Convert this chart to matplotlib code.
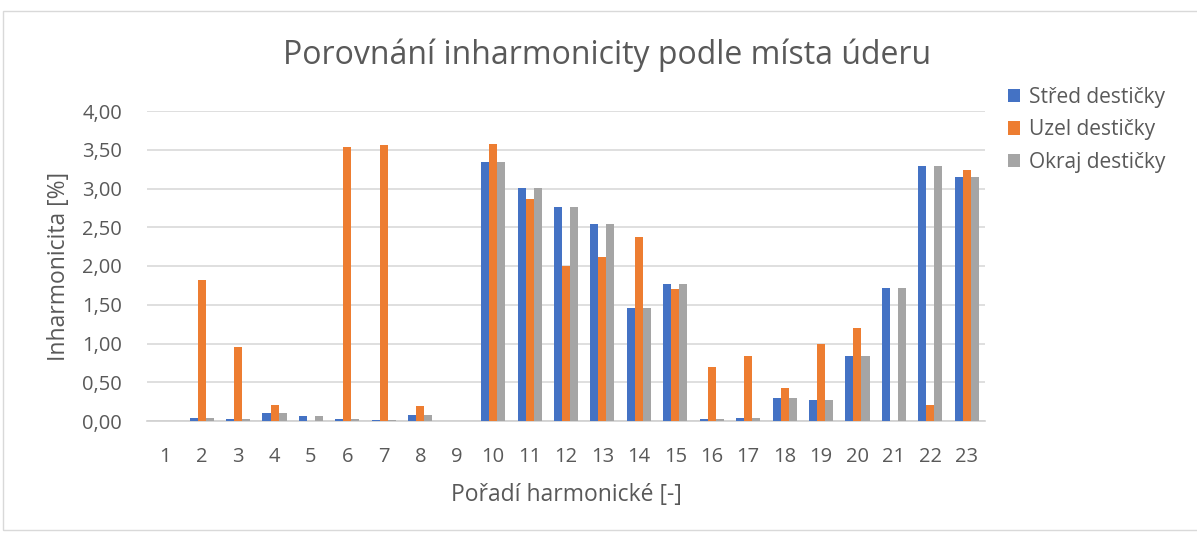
import matplotlib
matplotlib.use("Agg")
import matplotlib.pyplot as plt
import numpy as np
from matplotlib.patches import Rectangle
from matplotlib.ticker import FuncFormatter

plt.rcParams['font.family'] = ['Open Sans', 'DejaVu Sans']

harmonics = [str(i) for i in range(1, 24)]
stred = [0.00, 0.04, 0.02, 0.10, 0.06, 0.02, 0.01, 0.08, 0.00, 3.34, 3.01, 2.76,
         2.54, 1.46, 1.77, 0.03, 0.04, 0.30, 0.27, 0.84, 1.71, 3.29, 3.15]
uzel = [0.00, 1.82, 0.95, 0.21, 0.00, 3.54, 3.56, 0.20, 0.00, 3.58, 2.87, 2.00,
        2.12, 2.38, 1.70, 0.70, 0.84, 0.43, 1.00, 1.20, 0.00, 0.21, 3.24]
okraj = [0.00, 0.04, 0.02, 0.10, 0.06, 0.02, 0.01, 0.08, 0.00, 3.34, 3.01, 2.76,
         2.54, 1.46, 1.77, 0.03, 0.04, 0.30, 0.27, 0.84, 1.71, 3.29, 3.15]
series_names = ["Střed destičky", "Uzel destičky", "Okraj destičky"]
colors = ["#4472C4", "#ED7D31", "#A5A5A5"]

W, H = 1197, 533
fig = plt.figure(figsize=(W / 100, H / 100), dpi=100)
ax = fig.add_axes([147 / W, 1 - 421 / H, (985 - 147) / W, (421 - 111) / H])

x = np.arange(len(harmonics))
bw = 0.22
for i, (vals, name, c) in enumerate(zip([stred, uzel, okraj], series_names, colors)):
    ax.bar(x + (i - 1) * bw, vals, width=bw, color=c, label=name, zorder=3)

ax.set_xlim(-0.5, len(harmonics) - 0.5)
ax.set_ylim(0, 4.0)
ax.set_yticks(np.arange(0, 4.01, 0.5))
ax.yaxis.set_major_formatter(FuncFormatter(lambda v, p: f"{v:.2f}".replace(".", ",")))
ax.set_xticks(x)
ax.set_xticklabels(harmonics)
ax.grid(axis='y', color='#d9d9d9', linewidth=1.2, zorder=0)
for s in ['left', 'right', 'top']:
    ax.spines[s].set_visible(False)
ax.spines['bottom'].set_color('#d0d0d0')
ax.spines['bottom'].set_linewidth(1.2)
ax.tick_params(axis='both', length=0, colors='#595959', labelsize=14.5)
ax.tick_params(axis='x', pad=19)
ax.tick_params(axis='y', pad=18)

ax.set_ylabel("Inharmonicita [%]", fontsize=16.5, color='#595959', labelpad=8)
ax.set_xlabel("Pořadí harmonické [-]", fontsize=16.5, color='#595959', labelpad=11)
fig.text(607 / W, 1 - 55 / H, "Porovnání inharmonicity podle místa úderu",
         fontsize=23, color='#595959', ha='center', va='center')

leg = ax.legend(loc='upper left', bbox_to_anchor=(1.01, 1.125), frameon=False,
                fontsize=15, handlelength=0.6, handleheight=0.6, handletextpad=0.4,
                labelspacing=0.55, borderpad=0.2)
for t in leg.get_texts():
    t.set_color('#595959')

fig.patches.append(Rectangle((3 / W, 0.005), 1.2, 1 - 11 / H - 0.005, transform=fig.transFigure,
                             fill=False, edgecolor='#d9d9d9', linewidth=1))

fig.savefig("out.png", dpi=100)
